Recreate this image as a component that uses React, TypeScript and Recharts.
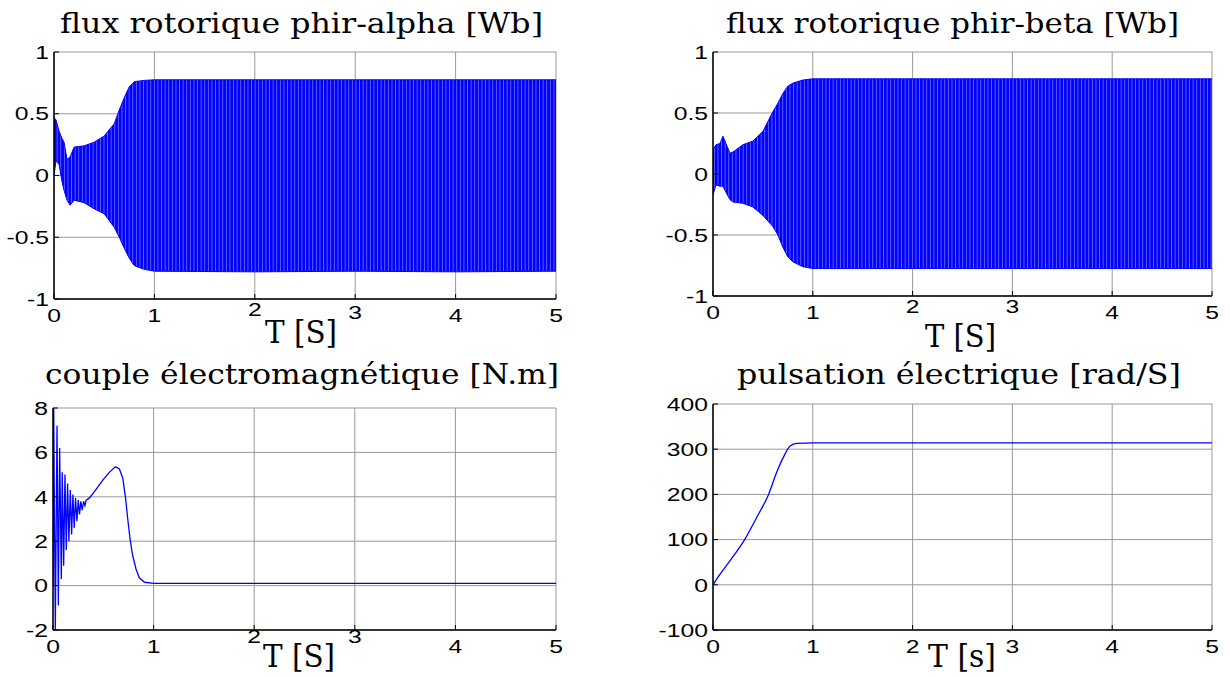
import React from 'react';
import { ComposedChart, Area, Line, XAxis, YAxis, CartesianGrid } from 'recharts';

const timeTicks = [0, 1, 2, 3, 4, 5];

// rotor flux alpha: upper / lower envelope of the oscillation
const alphaTime = [0, 0.02, 0.05, 0.08, 0.1, 0.13, 0.16, 0.2, 0.3, 0.4, 0.5, 0.6, 0.65, 0.7, 0.75, 0.8, 0.9, 1.0, 2, 3, 4, 5];
const alphaUpper = [0.47, 0.45, 0.36, 0.3, 0.27, 0.13, 0.15, 0.23, 0.24, 0.27, 0.32, 0.42, 0.53, 0.63, 0.72, 0.76, 0.77, 0.775, 0.775, 0.775, 0.775, 0.775];
const alphaLower = [0, 0.12, 0.09, -0.05, -0.12, -0.2, -0.24, -0.2, -0.22, -0.27, -0.31, -0.42, -0.5, -0.59, -0.67, -0.73, -0.76, -0.775, -0.78, -0.775, -0.78, -0.775];

// rotor flux beta: upper / lower envelope
const betaTime = [0, 0.03, 0.07, 0.1, 0.13, 0.17, 0.2, 0.3, 0.4, 0.5, 0.6, 0.65, 0.7, 0.75, 0.8, 0.9, 1, 2, 3, 4, 5];
const betaUpper = [0.2, 0.24, 0.25, 0.31, 0.25, 0.17, 0.18, 0.24, 0.27, 0.35, 0.51, 0.58, 0.66, 0.72, 0.745, 0.77, 0.78, 0.78, 0.78, 0.78, 0.78];
const betaLower = [-0.17, -0.09, -0.1, -0.1, -0.15, -0.21, -0.23, -0.24, -0.27, -0.34, -0.43, -0.5, -0.6, -0.68, -0.72, -0.76, -0.775, -0.775, -0.775, -0.775, -0.775];

// electromagnetic torque [N.m]
const torqueTime = [0, 0.007, 0.023, 0.04, 0.053, 0.066, 0.083, 0.092, 0.106, 0.119, 0.132, 0.145, 0.158, 0.172, 0.185, 0.198, 0.211, 0.224, 0.238, 0.251, 0.264, 0.277, 0.29, 0.304, 0.317, 0.33, 0.363, 0.43, 0.495, 0.56, 0.62, 0.66, 0.693, 0.72, 0.743, 0.766, 0.79, 0.825, 0.858, 0.91, 1, 2, 3, 4, 5];
const torqueValue = [0, 8, -2, 7.2, -0.9, 6.2, 0.3, 5.1, 0.9, 5.0, 1.6, 4.6, 2.0, 4.3, 2.3, 4.1, 2.6, 3.95, 2.9, 3.85, 3.2, 3.8, 3.4, 3.8, 3.6, 3.85, 3.95, 4.35, 4.75, 5.1, 5.35, 5.25, 4.85, 4.0, 3.0, 2.1, 1.4, 0.75, 0.35, 0.15, 0.1, 0.1, 0.1, 0.1, 0.1];

// electrical pulsation [rad/s]
const pulseTime = [0, 0.073, 0.173, 0.317, 0.44, 0.557, 0.64, 0.707, 0.773, 0.84, 1, 2, 3, 4, 5];
const pulseValue = [0, 24, 54, 100, 150, 200, 250, 283, 307, 313, 314, 314, 314, 314, 314];

const alphaTicks = [-1, -0.5, 0, 0.5, 1];
const torqueTicks = [-2, 0, 2, 4, 6, 8];
const pulseTicks = [-100, 0, 100, 200, 300, 400];

const alphaRows = alphaTime.map((t, i) => ({ t, band: [alphaLower[i], alphaUpper[i]] }));
const betaRows = betaTime.map((t, i) => ({ t, band: [betaLower[i], betaUpper[i]] }));
const torqueRows = torqueTime.map((t, i) => ({ t, v: torqueValue[i] }));
const pulseRows = pulseTime.map((t, i) => ({ t, v: pulseValue[i] }));

const BLUE = '#0000ff';
const tickFont = { fill: '#000', fontSize: 19, fontFamily: 'Liberation Sans, Arial, sans-serif' };
const frameLine = { stroke: '#000', strokeWidth: 1.5 };
// the figure's lettering is drawn wide
const WIDE = 1.3;

const none = () => <g />;

const timeTick = (lift: Record<number, number>) => (p: any) => (
  <text
    transform={`translate(${p.x},${p.y - (lift[p.payload.value] ?? 0)}) scale(${WIDE},1)`}
    dy="0.71em"
    textAnchor="middle"
    {...tickFont}
  >
    {p.payload.value}
  </text>
);

const valueTick = (p: any) => (
  <text transform={`translate(${p.x},${p.y}) scale(${WIDE},1)`} dy="0.355em" textAnchor="end" {...tickFont}>
    {p.payload.value}
  </text>
);

// grid, box and inward ticks shared by every panel
const frame = (yDomain: number[], yTicks: number[], lift: Record<number, number>) => [
  <CartesianGrid key="grid" stroke="#999999" strokeWidth={1} />,
  <XAxis key="xb" dataKey="t" type="number" domain={[0, 5]} ticks={timeTicks} interval={0}
    axisLine={frameLine} tickLine={{ stroke: '#000' }} tickSize={-5} tickMargin={15} height={30}
    tick={timeTick(lift)} allowDataOverflow />,
  <XAxis key="xt" xAxisId="top" orientation="top" dataKey="t" type="number" domain={[0, 5]}
    ticks={timeTicks} interval={0} axisLine={frameLine} tickLine={{ stroke: '#000' }} tickSize={-5}
    height={0} tick={none} allowDataOverflow />,
  <YAxis key="yl" type="number" domain={yDomain} ticks={yTicks} interval={0} width={50}
    axisLine={frameLine} tickLine={{ stroke: '#000' }} tickSize={-5} tickMargin={10}
    tick={valueTick} allowDataOverflow />,
  <YAxis key="yr" yAxisId="right" orientation="right" type="number" domain={yDomain} ticks={yTicks}
    interval={0} width={0} axisLine={frameLine} tickLine={{ stroke: '#000' }} tickSize={-5}
    tick={none} allowDataOverflow />,
];

const hatch = (id: string) => (
  <defs>
    <pattern id={id} patternUnits="userSpaceOnUse" width={3.6} height={10}>
      <rect width={3.6} height={10} fill={BLUE} />
      <rect x={2.9} width={0.6} height={10} fill="#ffffff" fillOpacity={0.6} />
    </pattern>
  </defs>
);

const titleFont = { fontFamily: 'DejaVu Serif, serif', fontSize: 28, fill: '#000' };
const axisFont = { fontFamily: 'DejaVu Serif, serif', fontSize: 31, fill: '#000' };

const App = () => (
  <div style={{ position: 'absolute', left: 0, top: 0, width: 1230, height: 677, background: '#fff' }}>
    <div style={{ position: 'absolute', left: 0, top: 0 }}>
      <ComposedChart width={600} height={345} data={alphaRows} margin={{ top: 52, left: 4, right: 44, bottom: 16 }}>
        {hatch('hatchAlpha')}
        {frame([-1, 1], alphaTicks, { 2: 6, 3: 3 })}
        <Area dataKey="band" type="linear" stroke={BLUE} strokeWidth={1} fill="url(#hatchAlpha)"
          fillOpacity={1} isAnimationActive={false} />
      </ComposedChart>
    </div>
    <div style={{ position: 'absolute', left: 650, top: 0 }}>
      <ComposedChart width={580} height={345} data={betaRows} margin={{ top: 52, left: 13, right: 18, bottom: 19 }}>
        {hatch('hatchBeta')}
        {frame([-1, 1], alphaTicks, { 2: 6, 3: 6 })}
        <Area dataKey="band" type="linear" stroke={BLUE} strokeWidth={1} fill="url(#hatchBeta)"
          fillOpacity={1} isAnimationActive={false} />
      </ComposedChart>
    </div>
    <div style={{ position: 'absolute', left: 0, top: 340 }}>
      <ComposedChart width={600} height={337} data={torqueRows} margin={{ top: 68, left: 3, right: 44, bottom: 17 }}>
        {frame([-2, 8], torqueTicks, { 2: 10, 3: 10 })}
        <Line dataKey="v" type="linear" stroke={BLUE} strokeWidth={1.3} dot={false} isAnimationActive={false} />
      </ComposedChart>
    </div>
    <div style={{ position: 'absolute', left: 650, top: 340 }}>
      <ComposedChart width={580} height={337} data={pulseRows} margin={{ top: 64, left: 13, right: 18, bottom: 17 }}>
        {frame([-100, 400], pulseTicks, {})}
        <Line dataKey="v" type="monotone" stroke={BLUE} strokeWidth={1.3} dot={false} isAnimationActive={false} />
      </ComposedChart>
    </div>
    <svg width={1230} height={677} style={{ position: 'absolute', left: 0, top: 0, pointerEvents: 'none' }}>
      <text x={60} y={33} textLength={483} lengthAdjust="spacingAndGlyphs" {...titleFont}>flux rotorique phir-alpha [Wb]</text>
      <text x={726} y={33} textLength={453} lengthAdjust="spacingAndGlyphs" {...titleFont}>flux rotorique phir-beta [Wb]</text>
      <text x={45} y={384} textLength={514} lengthAdjust="spacingAndGlyphs" {...titleFont}>couple électromagnétique [N.m]</text>
      <text x={737} y={384} textLength={444} lengthAdjust="spacingAndGlyphs" {...titleFont}>pulsation électrique [rad/S]</text>
      <text x={265} y={343} textLength={72} lengthAdjust="spacingAndGlyphs" {...axisFont}>T [S]</text>
      <text x={925} y={347} textLength={71} lengthAdjust="spacingAndGlyphs" {...axisFont}>T [S]</text>
      <text x={263} y={667} textLength={72} lengthAdjust="spacingAndGlyphs" {...axisFont}>T [S]</text>
      <text x={928} y={667} textLength={68} lengthAdjust="spacingAndGlyphs" {...axisFont}>T [s]</text>
    </svg>
  </div>
);

export default App;
